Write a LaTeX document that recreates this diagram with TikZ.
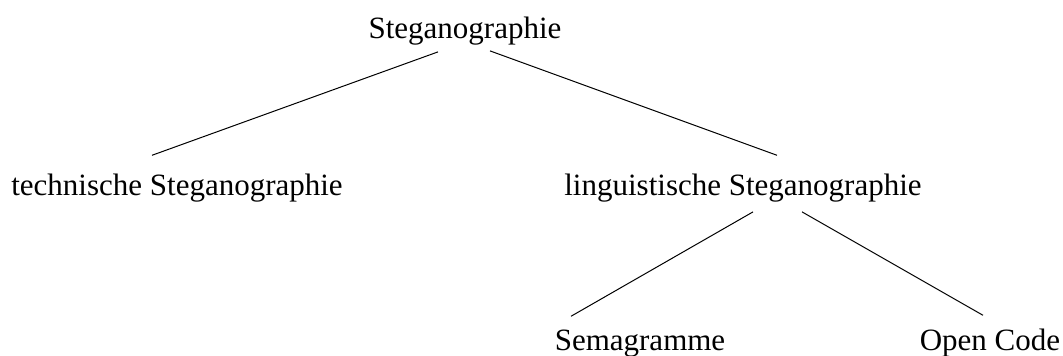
\documentclass[tikz,border=0pt]{standalone}
\usepackage{fontspec}
\setmainfont{Liberation Serif}
\begin{document}
\begin{tikzpicture}[x=1pt,y=-1pt,
  label/.style={inner sep=0pt,anchor=base,font=\fontsize{31}{37}\selectfont},
  branch/.style={line width=1pt}]
\useasboundingbox (0,0) rectangle (1063,356);
% tree nodes
\node[label] (root) at (465,38) {Steganographie};
\node[label] (tech) at (177,195) {technische Steganographie};
\node[label] (ling) at (743,195) {linguistische Steganographie};
\node[label] (sema) at (640,350) {Semagramme};
\node[label] (open) at (990,350) {Open Code};
% branches
\draw[branch] ([shift={(-27,7)}]root.south) -- ([shift={(-25,-18)}]tech.north);
\draw[branch] ([shift={(25,6)}]root.south) -- ([shift={(34,-18)}]ling.north);
\draw[branch] ([shift={(10,10)}]ling.south) -- ([shift={(-69,-13)}]sema.north);
\draw[branch] ([shift={(59,10)}]ling.south) -- ([shift={(-7,-13)}]open.north);
\end{tikzpicture}
\end{document}
